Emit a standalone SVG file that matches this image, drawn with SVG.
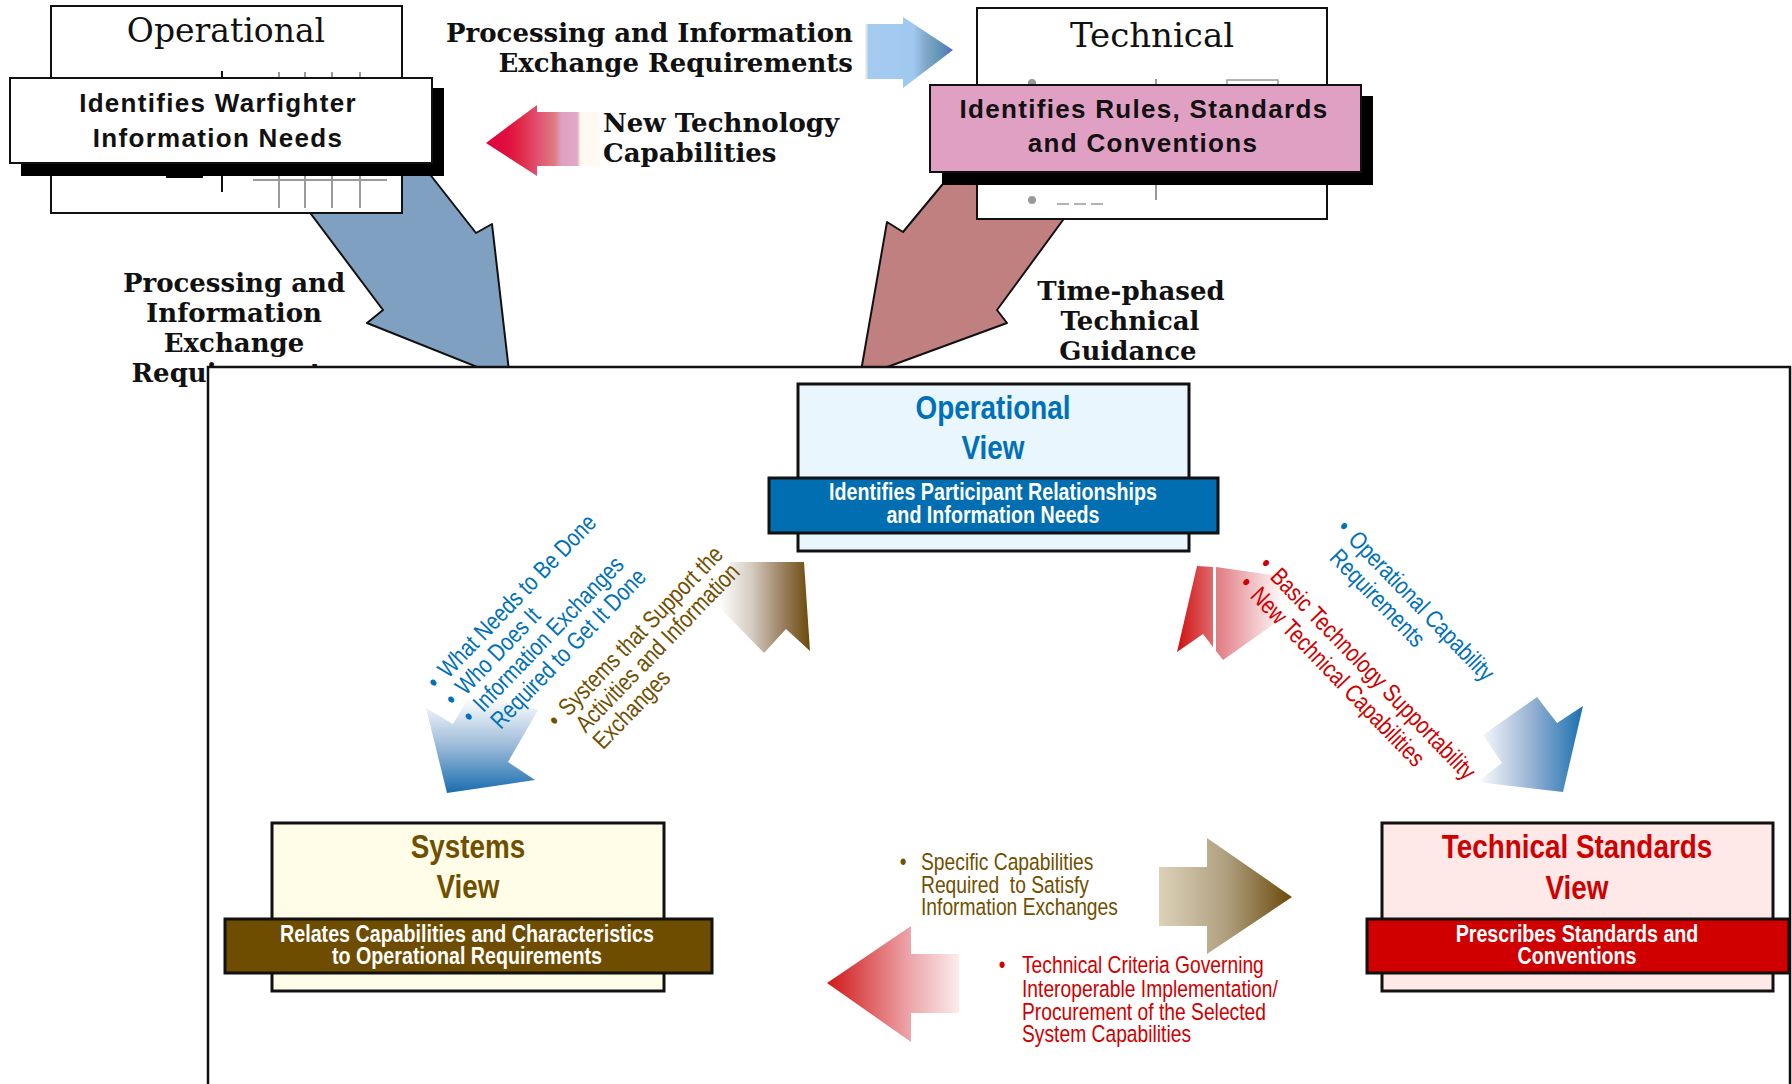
<svg xmlns="http://www.w3.org/2000/svg" width="1792" height="1084" viewBox="0 0 1792 1084">
<style>
.serif{font-family:"DejaVu Serif","Liberation Serif",serif;fill:#111}
.sb{font-family:"DejaVu Serif","Liberation Serif",serif;font-weight:bold;font-size:26px;fill:#111}
.bmp{font-family:"Liberation Sans",Arial,sans-serif;font-weight:bold;font-size:26px;letter-spacing:1.3px;fill:#111}
.ttl{font-family:"Liberation Sans",Arial,sans-serif;font-weight:bold;font-size:34px}
.band{font-family:"Liberation Sans",Arial,sans-serif;font-weight:bold;font-size:24px;fill:#fff}
.lbl{font-family:"Liberation Sans",Arial,sans-serif;font-size:23.5px}
.lblr{font-family:"Liberation Sans",Arial,sans-serif;font-size:24.4px}
.lbl2{font-family:"Liberation Sans",Arial,sans-serif;font-size:24.5px}
.blue{fill:#0070b8}.brown{fill:#705000}.red{fill:#d00000}
.box{stroke:#111;stroke-width:3}
.big{stroke:#111;stroke-width:2;stroke-linejoin:round}
.gray{stroke:#9a9a9a;stroke-width:2;fill:none}
</style>
<defs>
<linearGradient id="gTopBlue" gradientUnits="userSpaceOnUse" x1="865" y1="0" x2="953" y2="0">
<stop offset="0" stop-color="#fdf8e8"/><stop offset="0.04" stop-color="#a6cbef"/><stop offset="0.55" stop-color="#a0c8f0"/><stop offset="0.7" stop-color="#7fa6c8"/><stop offset="0.85" stop-color="#5f96b5"/><stop offset="1" stop-color="#5868d0"/>
</linearGradient>
<linearGradient id="gTopRed" gradientUnits="userSpaceOnUse" x1="486" y1="0" x2="600" y2="0">
<stop offset="0" stop-color="#e0003c"/><stop offset="0.2" stop-color="#e01040"/><stop offset="0.3" stop-color="#e02848"/><stop offset="0.45" stop-color="#e05070"/><stop offset="0.6" stop-color="#e07a80"/><stop offset="0.66" stop-color="#dfa0c0"/><stop offset="0.8" stop-color="#e0a8c8"/><stop offset="0.83" stop-color="#fff8ee"/><stop offset="1" stop-color="#fffaf2"/>
</linearGradient>
<linearGradient id="gBlueDL" gradientUnits="userSpaceOnUse" x1="0" y1="698" x2="0" y2="795">
<stop offset="0" stop-color="#ffffff"/><stop offset="0.5" stop-color="#9bbad8"/><stop offset="1" stop-color="#1269ad"/>
</linearGradient>
<linearGradient id="gBrownUp" gradientUnits="userSpaceOnUse" x1="719" y1="0" x2="810" y2="0">
<stop offset="0" stop-color="#ffffff"/><stop offset="0.35" stop-color="#d6cdc2"/><stop offset="0.7" stop-color="#9a8060"/><stop offset="1" stop-color="#6b4a0a"/>
</linearGradient>
<linearGradient id="gRedUpA" gradientUnits="userSpaceOnUse" x1="1177" y1="0" x2="1213" y2="0">
<stop offset="0" stop-color="#d01010"/><stop offset="1" stop-color="#e06a6e"/>
</linearGradient>
<linearGradient id="gRedUpB" gradientUnits="userSpaceOnUse" x1="1216" y1="0" x2="1285" y2="0">
<stop offset="0" stop-color="#e07a82"/><stop offset="1" stop-color="#ffffff"/>
</linearGradient>
<linearGradient id="gBlueDR" gradientUnits="userSpaceOnUse" x1="1477" y1="0" x2="1583" y2="0">
<stop offset="0" stop-color="#ffffff"/><stop offset="0.5" stop-color="#9ab4d4"/><stop offset="1" stop-color="#1a70b0"/>
</linearGradient>
<linearGradient id="gBrownR" gradientUnits="userSpaceOnUse" x1="1159" y1="0" x2="1292" y2="0">
<stop offset="0" stop-color="#dcd2b8"/><stop offset="0.5" stop-color="#b0a080"/><stop offset="1" stop-color="#6b4a0a"/>
</linearGradient>
<linearGradient id="gRedL" gradientUnits="userSpaceOnUse" x1="827" y1="0" x2="959" y2="0">
<stop offset="0" stop-color="#d01818"/><stop offset="0.6" stop-color="#eba0a4"/><stop offset="1" stop-color="#fcecec"/>
</linearGradient>
</defs>

<rect width="1792" height="1084" fill="#fff"/>

<!-- top connectors -->
<g id="connectors-top">
<polygon class="big" fill="#7fa0c0" points="263,150 383,310 367,323 510,380 492,224 476,233 432,177 411,150"/>
<polygon class="big" fill="#c08080" points="971,150 942,185 903,232 887,222 860,377 1007,323 997,310 1063,220 1114,150"/>
<polygon fill="url(#gTopBlue)" points="865,24 903,24 903,17 953,50 903,88 903,79 865,79"/>
<polygon fill="url(#gTopRed)" points="486,143 537,105 537,112 600,112 600,166 537,166 537,176"/>
<text class="sb" text-anchor="end" x="853" y="42">Processing and Information</text>
<text class="sb" text-anchor="end" x="853" y="72">Exchange Requirements</text>
<text class="sb" x="603" y="132">New Technology</text>
<text class="sb" x="603" y="162">Capabilities</text>
<g class="sb" text-anchor="middle">
<text x="234" y="292">Processing and</text>
<text x="234" y="322">Information</text>
<text x="234" y="352">Exchange</text>
<text x="234" y="382">Requirements</text>
<text x="1131" y="300">Time-phased</text>
<text x="1130" y="330">Technical</text>
<text x="1128" y="360">Guidance</text>
</g>
</g>

<!-- top-left Operational -->
<g id="top-operational">
<rect x="51" y="6" width="351" height="207" fill="#fff" stroke="#111" stroke-width="2"/>
<text class="serif" x="226" y="42" font-size="33" text-anchor="middle">Operational</text>
<line x1="222" y1="71" x2="222" y2="78" stroke="#111" stroke-width="2"/>
<path class="gray" d="M279,72V78M305,72V78M332,72V78M360,72V78"/>
<path class="gray" d="M253,180H387M279,176V208M305,176V208M332,176V208M360,176V208"/>
<line x1="222" y1="176" x2="222" y2="192" stroke="#111" stroke-width="2"/>
<rect x="21" y="88" width="423" height="88" fill="#000"/>
<rect x="166" y="163" width="37" height="15" fill="#000"/>
<rect x="10" y="78" width="422" height="85" fill="#fff" stroke="#111" stroke-width="2"/>
<text class="bmp" x="218" y="112" text-anchor="middle">Identifies Warfighter</text>
<text class="bmp" x="218" y="147" text-anchor="middle">Information Needs</text>
</g>

<!-- top-right Technical -->
<g id="top-technical">
<rect x="977" y="8" width="350" height="211" fill="#fff" stroke="#111" stroke-width="2"/>
<text class="serif" x="1152" y="47" font-size="34" text-anchor="middle">Technical</text>
<circle cx="1032" cy="83" r="4" fill="#9a9a9a"/>
<line x1="1156" y1="79" x2="1156" y2="86" stroke="#777" stroke-width="1.5"/>
<path d="M1227,86V80H1278V86" stroke="#9a9a9a" stroke-width="1.5" fill="none"/>
<circle cx="1032" cy="200" r="4" fill="#9a9a9a"/>
<line x1="1057" y1="204" x2="1108" y2="204" stroke="#9a9a9a" stroke-width="1.5" stroke-dasharray="12,5"/>
<line x1="1156" y1="184" x2="1156" y2="200" stroke="#777" stroke-width="1.5"/>
<rect x="942" y="96" width="431" height="89" fill="#000"/>
<rect x="930" y="85" width="431" height="87" fill="#e0a0c4" stroke="#111" stroke-width="2"/>
<text class="bmp" x="1144" y="118" text-anchor="middle">Identifies Rules, Standards</text>
<text class="bmp" x="1143" y="152" text-anchor="middle">and Conventions</text>
</g>

<!-- lower frame -->
<rect id="frame" x="208" y="367" width="1582" height="800" fill="#fff" stroke="#111" stroke-width="2.5"/>

<!-- lower connectors -->
<g id="connectors">
<polygon fill="url(#gBlueDL)" points="447,793 426,708 453,724 472,692 538,710 508,762 535,780"/>
<polygon fill="url(#gBrownUp)" points="730,562 804,562 810,651 786,629 764,653 719,607"/>
<polygon fill="url(#gRedUpA)" points="1197,566 1213,567 1213,647 1203,634 1177,652"/>
<polygon fill="url(#gRedUpB)" points="1216,567 1280,576 1280,620 1223,660 1216,651"/>
<polygon fill="url(#gBlueDR)" points="1483,735 1537,697 1557,723 1583,706 1563,792 1477,782 1502,763"/>
<polygon fill="url(#gBrownR)" points="1159,867 1207,867 1207,838 1292,897 1207,954 1207,926 1159,926"/>
<polygon fill="url(#gRedL)" points="827,983 911,926 911,954 959,954 959,1013 911,1013 911,1042"/>

<g class="lblr blue" transform="translate(436.8 690.7) rotate(-46) scale(0.82 1)">
<text x="0" y="0">•</text><text x="19.5" y="0">What Needs to Be Done</text>
<text x="0" y="24.5">•</text><text x="19.5" y="24.5">Who Does It</text>
<text x="0" y="49">•</text><text x="19.5" y="49">Information Exchanges</text>
<text x="19.5" y="73.5">Required to Get It Done</text>
</g>
<g class="lblr brown" transform="translate(557.4 728.7) rotate(-46) scale(0.82 1)">
<text x="0" y="0">•</text><text x="19.5" y="0">Systems that Support the</text>
<text x="19.5" y="24">Activities and Information</text>
<text x="19.5" y="48">Exchanges</text>
</g>
<g class="lbl2 blue" transform="translate(1335.8 529.2) rotate(46) scale(0.82 1)">
<text x="0" y="0">•</text><text x="19.5" y="0">Operational Capability</text>
<text x="19.5" y="26">Requirements</text>
</g>
<g class="lbl2 red" transform="translate(1257.8 566.2) rotate(46) scale(0.82 1)">
<text x="0" y="0">•</text><text x="19.5" y="0">Basic Technology Supportability</text>
<text x="0" y="27.5">•</text><text x="19.5" y="27.5">New Technical Capabilities</text>
</g>
<g class="lbl brown" transform="translate(921 0) scale(0.82 1)">
<text x="-26" y="870">•</text>
<text x="0" y="870">Specific Capabilities</text>
<text x="0" y="893" xml:space="preserve">Required  to Satisfy</text>
<text x="0" y="915">Information Exchanges</text>
</g>
<g class="lbl red" transform="translate(1022 0) scale(0.82 1)">
<text x="-28.5" y="973">•</text>
<text x="0" y="973">Technical Criteria Governing</text>
<text x="0" y="997">Interoperable Implementation/</text>
<text x="0" y="1020">Procurement of the Selected</text>
<text x="0" y="1042">System Capabilities</text>
</g>
</g>

<!-- Operational View -->
<g id="operational-view">
<rect class="box" x="798" y="384" width="391" height="167" fill="#eaf6fd"/>
<text class="ttl blue" transform="translate(993 419) scale(0.82 1)" text-anchor="middle">Operational</text>
<text class="ttl blue" transform="translate(993 459) scale(0.82 1)" text-anchor="middle">View</text>
<rect class="box" x="769" y="478" width="449" height="55" fill="#006eb0"/>
<text class="band" transform="translate(993 500) scale(0.82 1)" text-anchor="middle">Identifies Participant Relationships</text>
<text class="band" transform="translate(993 523) scale(0.82 1)" text-anchor="middle">and Information Needs</text>
</g>

<!-- Systems View -->
<g id="systems-view">
<rect class="box" x="272" y="823" width="392" height="168" fill="#fffde8"/>
<text class="ttl brown" transform="translate(468 858) scale(0.82 1)" text-anchor="middle">Systems</text>
<text class="ttl brown" transform="translate(468 898) scale(0.82 1)" text-anchor="middle">View</text>
<rect class="box" x="225" y="919" width="487" height="54" fill="#6f4d00"/>
<text class="band" transform="translate(467 942) scale(0.82 1)" text-anchor="middle">Relates Capabilities and Characteristics</text>
<text class="band" transform="translate(467 964) scale(0.82 1)" text-anchor="middle">to Operational Requirements</text>
</g>

<!-- Technical Standards View -->
<g id="technical-standards-view">
<rect class="box" x="1382" y="823" width="391" height="168" fill="#ffe8e8"/>
<text class="ttl red" transform="translate(1577 858) scale(0.82 1)" text-anchor="middle">Technical Standards</text>
<text class="ttl red" transform="translate(1577 899) scale(0.82 1)" text-anchor="middle">View</text>
<rect class="box" x="1367" y="919" width="422" height="54" fill="#d00000"/>
<text class="band" transform="translate(1577 942) scale(0.82 1)" text-anchor="middle">Prescribes Standards and</text>
<text class="band" transform="translate(1577 964) scale(0.82 1)" text-anchor="middle">Conventions</text>
</g>
</svg>
